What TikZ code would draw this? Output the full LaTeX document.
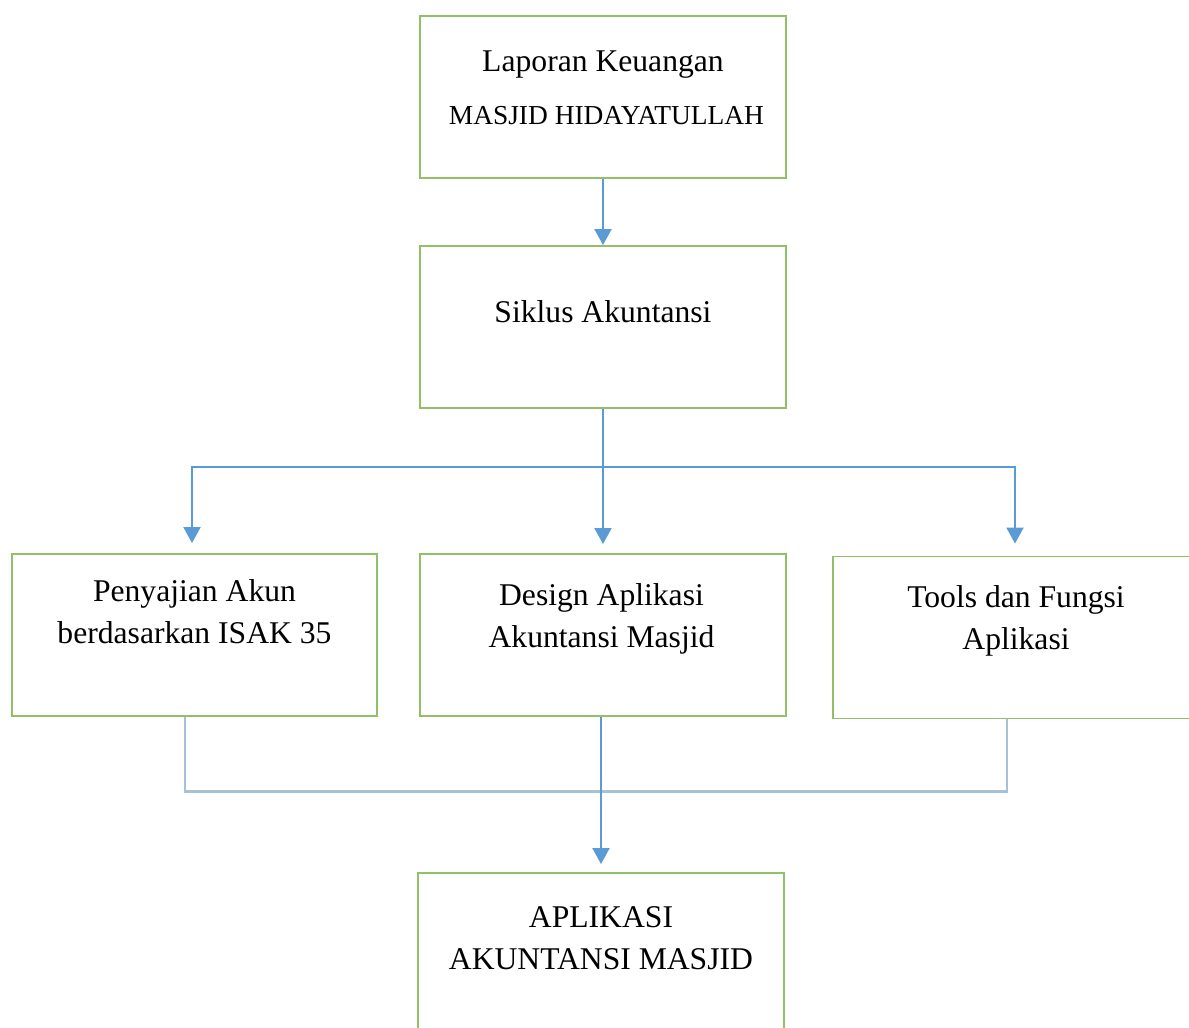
\documentclass[tikz,border=0pt]{standalone}
\usepackage{fontspec}
\setmainfont{Liberation Serif}
\usetikzlibrary{arrows.meta, calc}
\definecolor{boxgreen}{RGB}{146, 192, 104}
\definecolor{arrowblue}{RGB}{91, 155, 213}
\definecolor{joinblue}{RGB}{168, 192, 216}

\tikzset{
  flowbox/.style={draw=boxgreen, line width=1.1pt, minimum width=7.32cm, minimum height=3.24cm, inner sep=0pt},
  boxtext/.style={align=center, font=\fontsize{18}{24}\selectfont, inner sep=0pt},
  flowarrow/.style={draw=arrowblue, line width=1.2pt, -{Triangle[width=0.34cm, length=0.32cm]}},
  joinline/.style={draw=joinblue, line width=1.4pt}
}

\begin{document}
\begin{tikzpicture}
  \clip (0,0) rectangle (23.78,-20.56);

  % Boxes
  \node[flowbox] (laporan) at (12.06,-1.94) {};
  \node[flowbox] (siklus) at (12.06,-6.54) {};
  \node[flowbox, minimum width=7.3cm] (penyajian) at (3.89,-12.7) {};
  \node[flowbox] (design) at (12.06,-12.7) {};
  \node[flowbox] (tools) at (20.32,-12.75) {};
  \node[flowbox] (aplikasi) at (12.02,-19.08) {};

  % Texts
  \node[boxtext] (laporantext) at ($(laporan.north)+(0,-1.45)$) {Laporan Keuangan\\[6pt]{\fontsize{15.6}{18}\selectfont\ MASJID HIDAYATULLAH}};
  \node[boxtext] (siklustext) at ($(siklus.north)+(0,-1.34)$) {Siklus Akuntansi};
  \node[boxtext] (penyajiantext) at ($(penyajian.north)+(0,-1.18)$) {Penyajian Akun\\berdasarkan ISAK 35};
  \node[boxtext] (designtext) at ($(design.north)+(-0.03,-1.32)$) {Design Aplikasi\\Akuntansi Masjid};
  \node[boxtext] (toolstext) at ($(tools.north)+(0,-1.3)$) {Tools dan Fungsi\\Aplikasi};
  \node[boxtext] (aplikasitext) at ($(aplikasi.north)+(0,-1.32)$) {APLIKASI\\AKUNTANSI MASJID};

  % Arrows
  \coordinate (split) at ($(siklus.south)+(0,-1.16)$);
  \draw[flowarrow] (laporan.south) -- (siklus.north);
  \draw[flowarrow, shorten >=0.18cm] (siklus.south) -- (design.north);
  \draw[flowarrow, shorten >=0.2cm] (split) -| ($(penyajian.north)+(-0.05,0)$);
  \draw[flowarrow, shorten >=0.24cm] (split) -| ($(tools.north)+(-0.02,0)$);

  % Join to result
  \draw[joinline] ($(penyajian.south)+(-0.19,0)$) |- ($(tools.south)+(-0.18,-1.44)$) -- ($(tools.south)+(-0.18,0)$);
  \draw[flowarrow, shorten >=0.16cm] ($(design.south)+(-0.04,0)$) -- ($(design.south |- aplikasi.north)+(-0.04,0)$);
\end{tikzpicture}
\end{document}
